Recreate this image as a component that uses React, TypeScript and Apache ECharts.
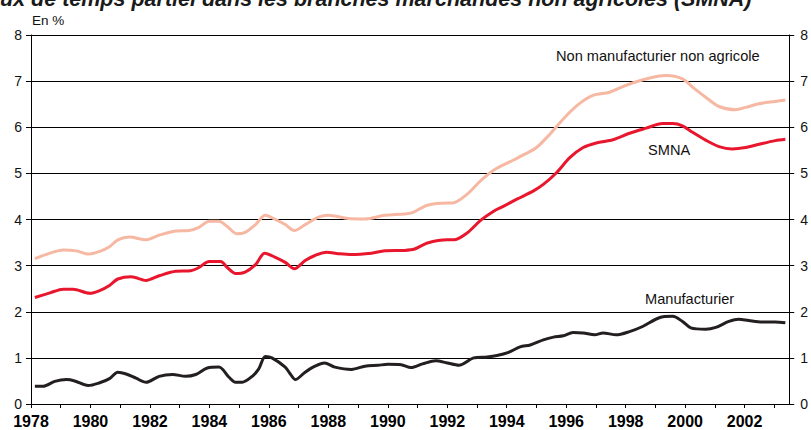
import React, { useEffect, useRef } from "react";
import * as echarts from "echarts";

const titleText = "ux de temps partiel dans les branches marchandes non agricoles (SMNA)";
const unitText = "En %";
const xTickYears = [1978, 1980, 1982, 1984, 1986, 1988, 1990, 1992, 1994, 1996, 1998, 2000, 2002];
const yTicks = [0, 1, 2, 3, 4, 5, 6, 7, 8];

const seriesNames = ["Non manufacturier non agricole", "SMNA", "Manufacturier"];

const nonManufacturier: [number, number][] = [
  [1978.13, 3.15], [1978.64, 3.27], [1979.08, 3.34], [1979.53, 3.32], [1979.92, 3.25],
  [1980.31, 3.31], [1980.64, 3.41], [1980.92, 3.56], [1981.31, 3.62], [1981.87, 3.56],
  [1982.31, 3.66], [1982.87, 3.75], [1983.32, 3.76], [1983.65, 3.83], [1983.99, 3.96],
  [1984.32, 3.96], [1984.6, 3.85], [1984.93, 3.69], [1985.2, 3.72], [1985.55, 3.89],
  [1985.88, 4.09], [1986.22, 4.0], [1986.55, 3.89], [1986.86, 3.76], [1987.22, 3.89],
  [1987.67, 4.05], [1988.0, 4.09], [1988.67, 4.02], [1989.23, 4.01], [1989.9, 4.09],
  [1990.56, 4.12], [1990.83, 4.15], [1991.33, 4.31], [1992.0, 4.36], [1992.17, 4.36],
  [1992.67, 4.55], [1993.12, 4.84], [1993.56, 5.07], [1994.23, 5.29], [1994.56, 5.4],
  [1995.0, 5.56], [1995.45, 5.85], [1995.9, 6.18], [1996.4, 6.49], [1996.9, 6.69],
  [1997.46, 6.76], [1998.02, 6.91], [1998.58, 7.03], [1999.13, 7.11], [1999.35, 7.12],
  [1999.91, 7.05], [2000.25, 6.87], [2000.69, 6.65], [2001.14, 6.45], [2001.7, 6.38],
  [2002.03, 6.43], [2002.48, 6.51], [2003.03, 6.56], [2003.37, 6.59]
];

const smna: [number, number][] = [
  [1978.13, 2.31], [1978.64, 2.41], [1979.08, 2.49], [1979.42, 2.49], [1979.97, 2.4],
  [1980.31, 2.46], [1980.64, 2.57], [1980.92, 2.71], [1981.37, 2.76], [1981.87, 2.68],
  [1982.31, 2.78], [1982.87, 2.88], [1983.37, 2.89], [1983.65, 2.96], [1983.99, 3.09],
  [1984.38, 3.09], [1984.6, 2.96], [1984.88, 2.83], [1985.2, 2.86], [1985.55, 3.02],
  [1985.86, 3.27], [1986.22, 3.18], [1986.55, 3.07], [1986.86, 2.93], [1987.22, 3.11],
  [1987.55, 3.22], [1987.94, 3.29], [1988.33, 3.26], [1988.78, 3.24], [1989.45, 3.27],
  [1989.9, 3.32], [1990.56, 3.33], [1990.9, 3.36], [1991.33, 3.49], [1992.0, 3.56],
  [1992.22, 3.56], [1992.67, 3.71], [1993.12, 3.98], [1993.56, 4.18], [1993.9, 4.29],
  [1994.34, 4.44], [1994.9, 4.62], [1995.23, 4.76], [1995.68, 5.02], [1996.12, 5.34],
  [1996.57, 5.56], [1997.01, 5.66], [1997.57, 5.73], [1998.13, 5.87], [1998.69, 5.98],
  [1999.24, 6.08], [1999.58, 6.08], [1999.91, 6.03], [2000.25, 5.89], [2000.69, 5.72],
  [2001.14, 5.58], [2001.58, 5.53], [2002.03, 5.56], [2002.48, 5.63], [2003.03, 5.71],
  [2003.37, 5.74]
];

const manufacturier: [number, number][] = [
  [1978.13, 0.385], [1978.41, 0.385], [1978.8, 0.49], [1979.19, 0.53], [1979.47, 0.5],
  [1979.92, 0.4], [1980.31, 0.46], [1980.64, 0.55], [1980.92, 0.69], [1981.2, 0.65],
  [1981.53, 0.56], [1981.87, 0.47], [1982.31, 0.6], [1982.76, 0.64], [1983.2, 0.6],
  [1983.54, 0.64], [1983.93, 0.78], [1984.32, 0.8], [1984.66, 0.58], [1984.88, 0.47],
  [1985.1, 0.47], [1985.44, 0.6], [1985.66, 0.76], [1985.88, 1.03], [1986.1, 1.0],
  [1986.55, 0.8], [1986.72, 0.65], [1986.89, 0.53], [1987.22, 0.69], [1987.55, 0.82],
  [1987.87, 0.89], [1988.22, 0.8], [1988.78, 0.75], [1989.23, 0.82], [1989.67, 0.84],
  [1990.0, 0.86], [1990.45, 0.85], [1990.78, 0.79], [1991.17, 0.87], [1991.61, 0.94],
  [1992.0, 0.89], [1992.39, 0.84], [1992.89, 1.0], [1993.34, 1.02], [1993.67, 1.05],
  [1994.06, 1.12], [1994.45, 1.24], [1994.79, 1.28], [1995.23, 1.39], [1995.57, 1.45],
  [1995.9, 1.48], [1996.23, 1.55], [1996.57, 1.54], [1996.96, 1.5], [1997.24, 1.54],
  [1997.68, 1.5], [1998.13, 1.57], [1998.57, 1.68], [1999.13, 1.87], [1999.58, 1.9],
  [1999.91, 1.79], [2000.19, 1.65], [2000.69, 1.62], [2001.03, 1.66], [2001.47, 1.79],
  [2001.8, 1.84], [2002.14, 1.81], [2002.59, 1.78], [2003.03, 1.78], [2003.37, 1.76]
];

const FONT = "'Liberation Sans', Arial, sans-serif";

export default function App() {
  const ref = useRef<HTMLDivElement>(null);
  useEffect(() => {
    if (!ref.current) return;
    const chart = echarts.init(ref.current, null, { renderer: "svg" });
    const yAxisCommon = {
      type: "value" as const,
      min: yTicks[0],
      max: yTicks[yTicks.length - 1],
      interval: 1,
      axisLine: { show: true, lineStyle: { color: "#000", width: 1 } },
      axisTick: { show: true, inside: false, length: 5, lineStyle: { color: "#000" } },
      axisLabel: { color: "#111", fontSize: 14, fontFamily: FONT, margin: 9 },
    };
    chart.setOption({
      animation: false,
      backgroundColor: "#fff",
      grid: { left: 31, right: 17, top: 35, bottom: 26, containLabel: false },
      xAxis: {
        type: "value",
        min: 1978,
        max: 2003.5,
        interval: 1,
        axisLine: { show: true, lineStyle: { color: "#000", width: 1 } },
        axisTick: { show: true, length: 4, lineStyle: { color: "#000" } },
        splitLine: { show: false },
        axisLabel: {
          color: "#000",
          fontSize: 16,
          fontWeight: "bold",
          fontFamily: FONT,
          margin: 9,
          showMaxLabel: false,
          formatter: (v: number) => (xTickYears.indexOf(v) >= 0 ? String(v) : ""),
        },
      },
      yAxis: [
        {
          ...yAxisCommon,
          position: "left",
          splitLine: { show: true, lineStyle: { color: "#000", width: 1 } },
        },
        {
          ...yAxisCommon,
          position: "right",
          splitLine: { show: false },
          axisLabel: { ...yAxisCommon.axisLabel, margin: 11 },
        },
      ],
      series: [
        {
          name: seriesNames[0], type: "line", data: nonManufacturier, showSymbol: false,
          smooth: 0.3, lineStyle: { color: "#F6B8A2", width: 3 }, z: 3,
        },
        {
          name: seriesNames[1], type: "line", data: smna, showSymbol: false,
          smooth: 0.3, lineStyle: { color: "#E8172D", width: 3 }, z: 4,
        },
        {
          name: seriesNames[2], type: "line", data: manufacturier, showSymbol: false,
          smooth: 0.3, lineStyle: { color: "#231F20", width: 3 }, z: 5,
        },
      ],
      graphic: [
        {
          type: "text", left: 0, top: -12,
          style: {
            text: titleText, fill: "#1a1a1a", fontSize: 21.5, fontWeight: "bold",
            fontStyle: "italic", fontFamily: FONT,
          },
        },
        {
          type: "text", left: 32, top: 13,
          style: { text: unitText, fill: "#111", fontSize: 13.5, fontFamily: FONT },
        },
        {
          type: "text", left: 556, top: 48,
          style: { text: seriesNames[0], fill: "#111", fontSize: 14.6, fontFamily: FONT },
        },
        {
          type: "text", left: 648, top: 142,
          style: { text: seriesNames[1], fill: "#111", fontSize: 14.6, fontFamily: FONT },
        },
        {
          type: "text", left: 645, top: 291,
          style: { text: seriesNames[2], fill: "#111", fontSize: 14.6, fontFamily: FONT },
        },
      ],
    });
    return () => chart.dispose();
  }, []);
  return <div ref={ref} style={{ width: 811, height: 430, position: "absolute", left: 0, top: 0 }} />;
}
